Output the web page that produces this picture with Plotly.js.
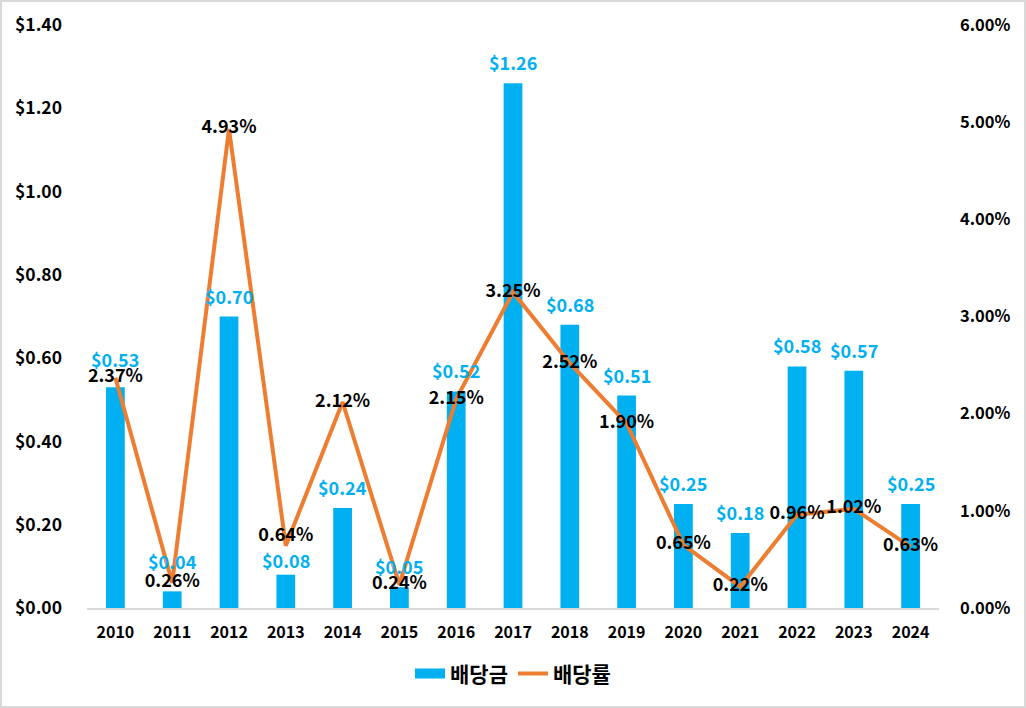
<!DOCTYPE html>
<html><head><meta charset="utf-8">
<script src="https://cdn.plot.ly/plotly-3.0.1.min.js"></script>
<style>
html,body{margin:0;padding:0;background:#fff;}
#wrap{width:1026px;height:708px;box-sizing:border-box;border:2px solid #d9d9d9;overflow:hidden;}
#chart{width:1022px;height:704px;}
</style></head>
<body><div id="wrap"><div id="chart"></div></div>
<script>
const years = ['2010','2011','2012','2013','2014','2015','2016','2017','2018','2019','2020','2021','2022','2023','2024'];
const dividend = [0.53,0.04,0.70,0.08,0.24,0.05,0.52,1.26,0.68,0.51,0.25,0.18,0.58,0.57,0.25];
const yieldPct = [2.37,0.26,4.93,0.64,2.12,0.24,2.15,3.25,2.52,1.90,0.65,0.22,0.96,1.02,0.63];
const seriesNames = ['배당금','배당률'];

const FONT = '"Noto Sans CJK KR", "Noto Sans", sans-serif';
const blue = '#00B0F0', orange = '#ED7D31';

// label placement tweaks (pixels), like the hand-adjusted labels of the original
const barLabelShift = {'2010':28, '2011':30, '2013':15};
const lineLabelPos = {'2013':'top center'};

const traces = [
  {type:'scatter', mode:'lines', x:[null], y:[null], name:seriesNames[0],
   line:{color:blue, width:11}, hoverinfo:'skip'},
  {type:'bar', x:years, y:dividend, name:seriesNames[0], marker:{color:blue},
   width:0.33, showlegend:false, hoverinfo:'skip'},
  {type:'scatter', mode:'lines+text', x:years, y:yieldPct.map(v=>v/100), yaxis:'y2',
   name:seriesNames[1], line:{color:orange, width:4},
   text:yieldPct.map(v=>v.toFixed(2)+'%'),
   textposition:years.map(y=>lineLabelPos[y]||'middle center'), cliponaxis:false,
   textfont:{family:FONT, size:18, color:'#000', weight:'bold'}, hoverinfo:'skip'}
];

const annotations = years.map((yr,i)=>({
  x:i, y:dividend[i], xref:'x', yref:'y', text:'$' + dividend[i].toFixed(2),
  showarrow:false, yanchor:'middle', yshift:(barLabelShift[yr]||21),
  font:{family:FONT, size:18, color:blue, weight:'bold'}
}));

const layout = {
  width:1022, height:704,
  margin:{l:85, r:85, t:23, b:96},
  paper_bgcolor:'#fff', plot_bgcolor:'#fff',
  font:{family:FONT, size:16, color:'#000', weight:'bold'},
  showlegend:true,
  annotations:annotations,
  legend:{orientation:'h', x:0.5, xanchor:'center', y:-0.113, yanchor:'middle',
    font:{family:FONT, size:21, color:'#000', weight:'bold'}},
  xaxis:{type:'category', range:[-0.5,14.5], showgrid:false, showline:true, linecolor:'#d9d9d9', linewidth:2,
    ticks:'', tickfont:{family:FONT, size:16, color:'#000', weight:'bold'}, ticklabelstandoff:9},
  yaxis:{range:[0,1.4], dtick:0.2, tickprefix:'$', tickformat:'.2f', showgrid:false,
    zeroline:false, showline:false, ticks:'', ticklabelstandoff:24,
    tickfont:{family:FONT, size:17.5, color:'#000', weight:'bold'}},
  yaxis2:{range:[0,0.06], dtick:0.01, tickformat:'.2%', overlaying:'y', side:'right',
    showgrid:false, zeroline:false, showline:false, ticks:'', ticklabelstandoff:20,
    tickfont:{family:FONT, size:16.5, color:'#000', weight:'bold'}}
};

Plotly.newPlot('chart', traces, layout, {displayModeBar:false, staticPlot:true});
</script></body></html>
